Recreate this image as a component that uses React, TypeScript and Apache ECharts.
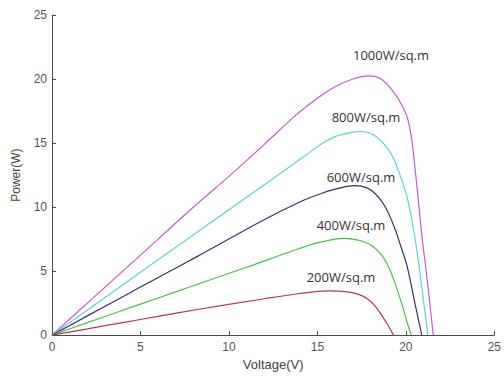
import React, { useEffect, useRef } from "react";
import * as echarts from "echarts";

// Irradiance series (label, voltage V, power W)
const seriesLabels = ["1000W/sq.m", "800W/sq.m", "600W/sq.m", "400W/sq.m", "200W/sq.m"];

const v1000 = [0, 2, 4, 6, 8, 10, 12, 13.8, 15, 16, 17, 17.9, 18.6, 19.3, 19.8, 20.1, 20.35, 20.55, 20.75, 20.95, 21.15, 21.35, 21.55];
const p1000 = [0, 2.5, 5.0, 7.5, 10.0, 12.4, 14.9, 17.2, 18.5, 19.4, 20.0, 20.25, 20.0, 19.0, 17.9, 16.9, 15.1, 12.6, 9.9, 7.2, 5.0, 2.5, 0];

const v800 = [0, 2, 4, 6, 8, 11, 14.3, 15.2, 16, 17, 17.5, 18.2, 18.96, 19.33, 19.7, 20.07, 20.4, 20.67, 20.95, 21.24];
const p800 = [0, 1.96, 3.92, 5.88, 7.84, 10.77, 14.0, 14.9, 15.5, 15.85, 15.9, 15.6, 14.6, 13.7, 12.4, 10.77, 8.5, 6.15, 3.2, 0];

const v600 = [0, 2, 4, 6, 8.22, 11.93, 14, 14.9, 16, 17.1, 17.8, 18.3, 18.8, 19.33, 19.7, 20.07, 20.54, 20.9];
const p600 = [0, 1.5, 3.0, 4.5, 6.15, 8.97, 10.4, 10.9, 11.4, 11.67, 11.5, 11.0, 10.1, 8.5, 7.0, 5.38, 2.3, 0];

const v400 = [0, 2, 4, 6, 8.22, 11, 13.78, 15, 16, 16.56, 17.5, 18.1, 18.6, 19.0, 19.4, 19.8, 20.07, 20.3];
const p400 = [0, 0.97, 1.94, 2.9, 3.97, 5.3, 6.67, 7.2, 7.5, 7.56, 7.35, 6.95, 6.3, 5.4, 4.0, 2.3, 1.0, 0];

const v200 = [0, 2, 4, 6, 8.22, 11.93, 14, 15.6, 16.7, 17.3, 17.8, 18.3, 18.7, 19.0, 19.3];
const p200 = [0, 0.49, 0.98, 1.46, 2.0, 2.82, 3.25, 3.46, 3.38, 3.2, 2.85, 2.2, 1.4, 0.75, 0];

const voltages = [v1000, v800, v600, v400, v200];
const powers = [p1000, p800, p600, p400, p200];

const colors = ["#c25cc8", "#5ed2d2", "#33336e", "#48c048", "#b03a50"];
const labelPos = [
  [391, 55],
  [366, 117],
  [361, 177],
  [351, 225],
  [341, 277],
];

export default function App() {
  const ref = useRef<HTMLDivElement>(null);
  useEffect(() => {
    if (!ref.current) return;
    const chart = echarts.init(ref.current, undefined, { renderer: "svg" });
    const axisColor = "#4a4a4a";
    chart.setOption({
      animation: false,
      backgroundColor: "#fff",
      grid: { left: 52, right: 2, top: 15, bottom: 36, containLabel: false },
      xAxis: {
        type: "value",
        min: 0,
        max: 25,
        interval: 5,
        name: "Voltage(V)",
        nameLocation: "middle",
        nameGap: 18,
        nameTextStyle: { color: "#444", fontSize: 13, fontFamily: "Liberation Sans, Arial, sans-serif" },
        axisLine: { show: true, lineStyle: { color: axisColor, width: 1 } },
        axisTick: { show: true, inside: true, length: 4, lineStyle: { color: axisColor } },
        axisLabel: { color: "#555", fontSize: 12, margin: 6, fontFamily: "Liberation Sans, Arial, sans-serif" },
        splitLine: { show: false },
      },
      yAxis: {
        type: "value",
        min: 0,
        max: 25,
        interval: 5,
        name: "Power(W)",
        nameLocation: "middle",
        nameGap: 30,
        nameRotate: 90,
        nameTextStyle: { color: "#444", fontSize: 12, fontFamily: "Liberation Sans, Arial, sans-serif" },
        axisLine: { show: true, lineStyle: { color: axisColor, width: 1 } },
        axisTick: { show: true, inside: true, length: 4, lineStyle: { color: axisColor } },
        axisLabel: { color: "#555", fontSize: 12, margin: 5, fontFamily: "Liberation Sans, Arial, sans-serif" },
        splitLine: { show: false },
      },
      series: seriesLabels.map((name, i) => ({
        name,
        type: "line",
        data: voltages[i].map((v, j) => [v, powers[i][j]]),
        showSymbol: false,
        symbol: "none",
        smooth: 0.3,
        lineStyle: { color: colors[i], width: 1.2 },
        z: 2,
      })),
      graphic: seriesLabels.map((name, i) => ({
        type: "text",
        x: labelPos[i][0],
        y: labelPos[i][1],
        style: {
          text: name,
          fill: "#333",
          fontSize: 13,
          fontFamily: "Open Sans, DejaVu Sans, sans-serif",
          align: "center",
          verticalAlign: "middle",
        },
      })),
    });
    return () => chart.dispose();
  }, []);
  return (
    <div
      ref={ref}
      style={{ position: "fixed", left: 0, top: 0, width: 504, height: 376, background: "#fff" }}
    />
  );
}
